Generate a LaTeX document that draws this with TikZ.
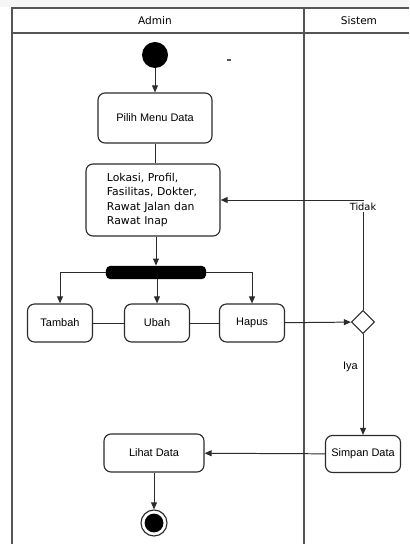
\documentclass[tikz,border=0pt]{standalone}
\usepackage{fontspec}
\setmainfont{Liberation Sans}
\newfontfamily\dejavu{DejaVu Sans}
\usetikzlibrary{arrows.meta,shapes.geometric}

\definecolor{laneline}{HTML}{555555}
\definecolor{boxline}{HTML}{2B2B2B}

\tikzset{
	act/.style={draw=boxline, line width=0.8pt, rounded corners=5pt, align=center,
		font=\fontsize{7.8}{9.5}\selectfont, inner sep=2pt},
	flow/.style={draw=boxline, line width=0.7pt, -{Triangle[length=5pt,width=4.2pt]}},
	link/.style={draw=boxline, line width=0.7pt},
	lane/.style={draw=laneline, line width=1pt},
	lanehead/.style={font=\dejavu\fontsize{7.5}{9}\selectfont},
}

\begin{document}
\begin{tikzpicture}[x=0.025cm, y=-0.025cm]
\useasboundingbox (0,0) rectangle (409,544);
\fill[gray!8] (0,0) rectangle (409,7);

\pgfmathsetmacro{\laneL}{12}
\pgfmathsetmacro{\laneM}{304}
\pgfmathsetmacro{\laneT}{8}
\pgfmathsetmacro{\laneH}{33}

\draw[lane] (\laneL,544) -- (\laneL,\laneT) -- (409,\laneT);
\draw[lane] (\laneL,\laneH) -- (409,\laneH);
\draw[lane] (\laneM,\laneT) -- (\laneM,544);
\node[lanehead] (admin) at (155,21) {Admin};
\node[lanehead] (sistem) at (359,21) {Sistem};

\draw[laneline, line width=1pt] (227,60) -- (231,60);

% admin
\node[circle, fill=black, minimum size=0.65cm, inner sep=0] (start) at (155,55) {};
\node[act, minimum width=2.85cm, minimum height=1.25cm] (pilih) at (155,118) {Pilih Menu Data};
\node[act, minimum width=3.35cm, minimum height=1.8cm, text width=2.3cm, align=left,
	font=\dejavu\fontsize{7.7}{10}\selectfont] (lokasi) at (153,200)
	{Lokasi, Profil,\\Fasilitas, Dokter,\\Rawat Jalan dan\\Rawat Inap};
\node[fill=black, rounded corners=3pt, minimum width=2.5cm, minimum height=0.33cm, inner sep=0] (fork) at (156,272.5) {};
\node[act, minimum width=1.625cm, minimum height=0.95cm] (tambah) at (60,323) {Tambah};
\node[act, minimum width=1.625cm, minimum height=0.95cm] (ubah) at (157,323) {Ubah};
\node[act, minimum width=1.625cm, minimum height=0.95cm] (hapus) at (252,323) {Hapus};
\node[act, minimum width=2.5cm, minimum height=0.95cm] (lihat) at (154,453) {Lihat Data};
\node[circle, draw=boxline, line width=0.8pt, minimum size=0.65cm, inner sep=0,
	path picture={\fill[black] (path picture bounding box.center) circle (0.235cm);}] (fin) at (154,523) {};

% sistem
\node[diamond, draw=boxline, line width=0.8pt, minimum size=0.58cm, inner sep=0] (cek) at (363,322) {};
\node[act, minimum width=1.875cm, minimum height=0.925cm] (simpan) at (363,454) {Simpan Data};

\draw[flow] (start) -- (pilih);
\draw[link] (pilih) -- (pilih |- lokasi.north);
\draw[flow] (fork |- lokasi.south) -- (fork.north);
\draw[flow] (fork.west) -| (tambah);
\draw[flow] (fork.south -| ubah) -- (ubah);
\draw[flow] (fork.east) -| (hapus);
\draw[link] (tambah) -- (ubah);
\draw[link] (ubah) -- (hapus);
\draw[flow] (hapus) -- (cek);
\draw[flow] (cek.north) |- node[pos=0.47, fill=white, inner sep=1pt, font=\dejavu\fontsize{7}{8}\selectfont] (tidak) {Tidak} (lokasi.east);
\draw[flow] (cek) -- node[left, pos=0.32, font=\fontsize{7.8}{9}\selectfont] (iya) {Iya} (simpan);
\draw[flow] (simpan) -- (lihat);
\draw[flow] (lihat) -- (fin);
\end{tikzpicture}
\end{document}
